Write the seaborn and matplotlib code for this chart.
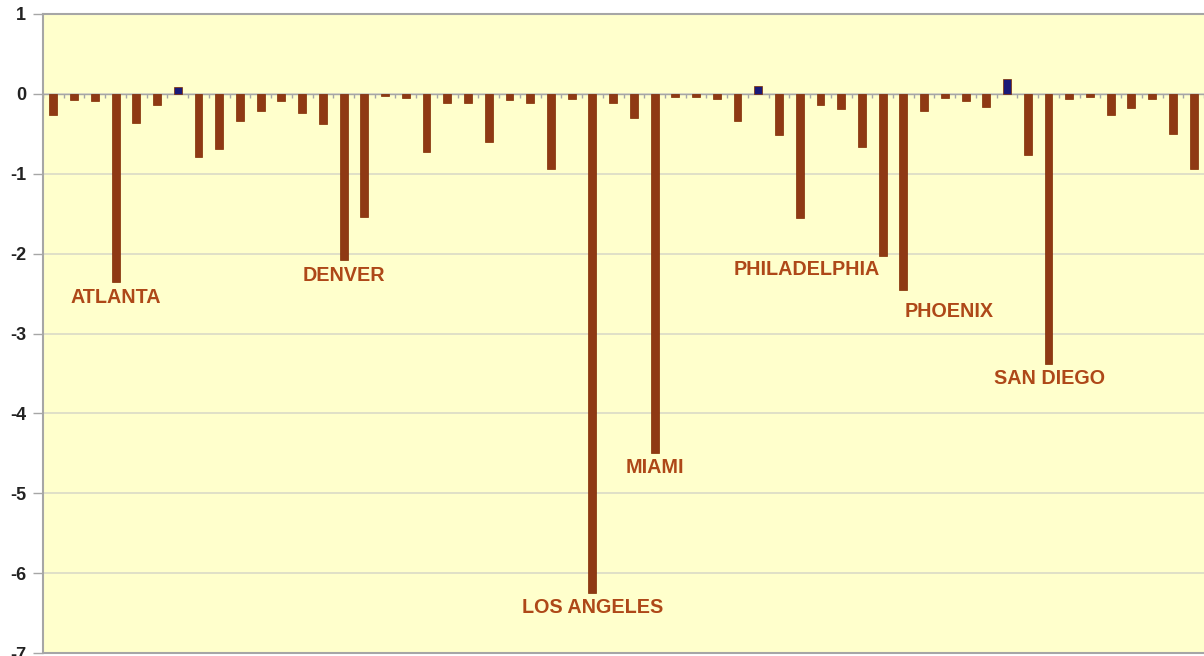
import numpy as np
import pandas as pd
import matplotlib
matplotlib.use("Agg")
import matplotlib.pyplot as plt
import seaborn as sns

# ---- data ----
values = [
    -0.27, -0.08, -0.09, -2.36, -0.36, -0.14, 0.08, -0.79, -0.69, -0.34,
    -0.21, -0.09, -0.24, -0.38, -2.08, -1.54, -0.03, -0.05, -0.73, -0.12,
    -0.11, -0.60, -0.08, -0.12, -0.94, -0.07, -6.25, -0.11, -0.30, -4.49,
    -0.04, -0.04, -0.07, -0.34, 0.10, -0.52, -1.56, -0.14, -0.19, -0.67,
    -2.03, -2.45, -0.22, -0.05, -0.09, -0.17, 0.18, -0.76, -3.38, -0.07,
    -0.04, -0.27, -0.18, -0.06, -0.50, -0.94,
]
label_cities = ["ATLANTA", "DENVER", "LOS ANGELES", "MIAMI",
                "PHILADELPHIA", "PHOENIX", "SAN DIEGO"]
label_bars = [3, 14, 26, 29, 40, 41, 48]
y_ticks = [1, 0, -1, -2, -3, -4, -5, -6, -7]

# ---- styling ----
BAR_NEG = "#A33100"
BAR_POS = "#0A0A88"
BG = "#FFFFCC"
LABEL_COLOR = "#AE4818"
AXIS_GRAY = "#A6A6A6"

df = pd.DataFrame({
    "idx": [str(i) for i in range(len(values))],
    "value": values,
    "sign": ["pos" if v > 0 else "neg" for v in values],
})

sns.set_theme(style="white")
plt.rcParams["font.family"] = ["Liberation Sans", "DejaVu Sans"]

fig = plt.figure(figsize=(12.04, 6.56), dpi=100)
ax = fig.add_axes([43 / 1204, 3 / 656, (1204 - 43) / 1204, (653 - 14) / 656])
ax.set_facecolor(BG)

sns.barplot(data=df, x="idx", y="value", hue="sign",
            palette={"neg": BAR_NEG, "pos": BAR_POS},
            order=df["idx"].tolist(), dodge=False, width=0.38,
            edgecolor="#802A00", linewidth=0.5, legend=False, ax=ax,
            zorder=3)

ax.set_ylim(-7, 1)
ax.set_xlim(-0.42, 55.27)
ax.set_yticks(y_ticks)
ax.set_yticklabels([str(t) for t in y_ticks], fontsize=13, fontweight="bold",
                   color="#222222")
ax.yaxis.grid(True, color="#DADAC6", linewidth=1.2, zorder=0)
ax.xaxis.grid(False)
ax.set_axisbelow(True)

# category axis crossing at zero with tick marks between categories
ax.spines["bottom"].set_position(("data", 0))
ax.spines["bottom"].set_color(AXIS_GRAY)
ax.spines["bottom"].set_linewidth(1.0)
ax.set_xticks(np.arange(-0.5, len(values), 1.0))
ax.set_xticklabels([])
ax.tick_params(axis="x", direction="out", length=3, width=1, color=AXIS_GRAY,
               bottom=True)
ax.tick_params(axis="y", direction="out", length=7, width=1, color=AXIS_GRAY,
               left=True, pad=5)
ax.set_xlabel("")
ax.set_ylabel("")

for side in ["left", "top"]:
    ax.spines[side].set_color(AXIS_GRAY)
    ax.spines[side].set_linewidth(1.5)
ax.spines["right"].set_visible(False)
ax.axhline(-7, color=AXIS_GRAY, linewidth=1.5, clip_on=False, zorder=4)

# city labels
offsets = {
    "ATLANTA": (0.0, 0.07, "center"),
    "DENVER": (0.0, 0.07, "center"),
    "LOS ANGELES": (0.0, 0.065, "center"),
    "MIAMI": (0.0, 0.07, "center"),
    "PHILADELPHIA": (-0.15, 0.045, "right"),
    "PHOENIX": (0.05, 0.15, "left"),
    "SAN DIEGO": (0.07, 0.06, "center"),
}
for city, b in zip(label_cities, label_bars):
    dx, dy, ha = offsets[city]
    ax.text(b + dx, values[b] - dy, city, ha=ha, va="top",
            fontsize=14.2, fontweight="bold", color=LABEL_COLOR, zorder=5)

fig.savefig("out.png", dpi=100, facecolor="white")
